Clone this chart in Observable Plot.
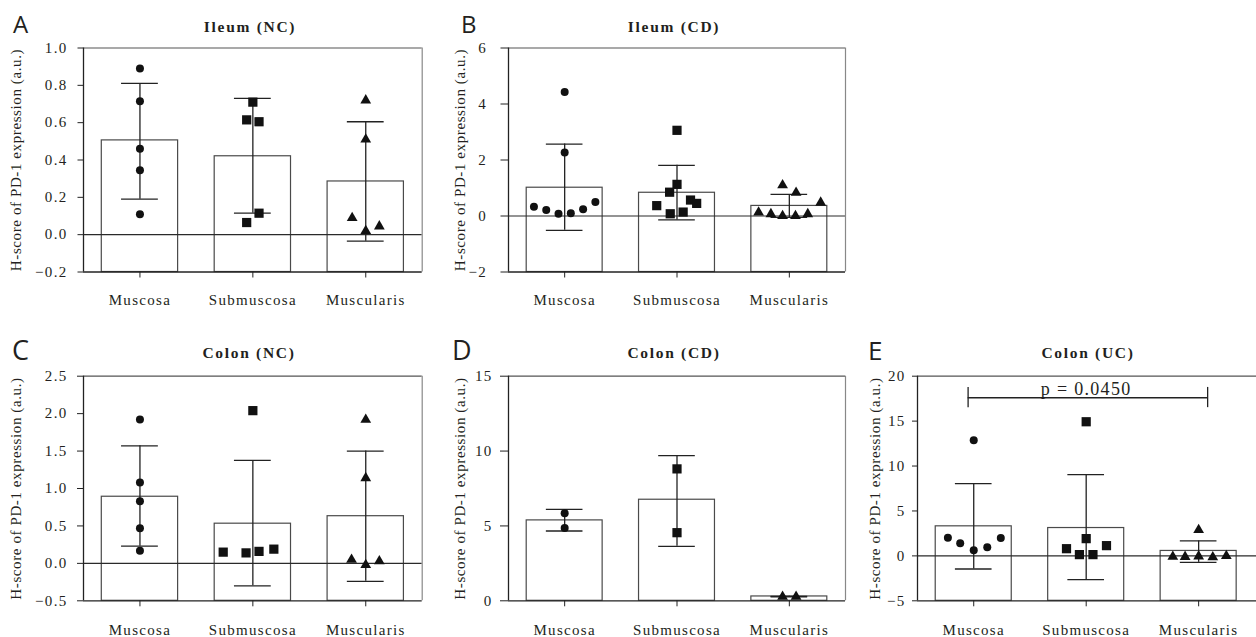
<!DOCTYPE html>
<html><head><meta charset="utf-8">
<script src="https://cdn.jsdelivr.net/npm/d3@7"></script>
<script src="https://cdn.jsdelivr.net/npm/@observablehq/plot@0.6"></script>
<style>
html,body{margin:0;padding:0;background:#fff;}
#root{position:relative;width:1256px;height:637px;overflow:hidden;background:#fff;}
#root svg.pan{position:absolute;overflow:visible;max-width:none;font-family:"Liberation Serif","DejaVu Serif",serif;font-size:15px;}
#root svg.pan text{letter-spacing:1.3px;fill:#231f20;font-family:"Liberation Serif","DejaVu Serif",serif;}
#root svg.pan g[aria-label="y-axis label"] text{letter-spacing:0.6px;}
#root svg.pan g[aria-label="sig label"] text{letter-spacing:1px;}
#overlay{position:absolute;left:0;top:0;}
#overlay text.title{font-family:"Liberation Serif","DejaVu Serif",serif;font-weight:bold;font-size:15.5px;letter-spacing:1.7px;fill:#231f20;text-anchor:middle;}
#overlay text.letter{font-family:"Open Sans","DejaVu Sans",sans-serif;font-weight:400;fill:#231f20;}
</style>
</head><body><div id="root"></div>
<script>
// ---------- data ----------
const groups = ["Muscosa", "Submuscosa", "Muscularis"];
const yLabel = "H-score of PD-1 expression (a.u.)";

// Panel A: Ileum (NC)
const ileumNC_title = "Ileum (NC)";
const ileumNC_values = [[0.89, 0.715, 0.46, 0.345, 0.11], [0.71, 0.615, 0.605, 0.115, 0.065], [0.72, 0.51, 0.09, 0.02, 0.045]];
const ileumNC_slots  = [[0, 0, 0, 0, 0], [0, -1, 1, 1, -1], [0, 0, -2.2, 0, 2.2]];
const ileumNC_mean = [0.505, 0.42, 0.285];
const ileumNC_errHi = [0.81, 0.73, 0.605];
const ileumNC_errLo = [0.19, 0.115, -0.035];
const ileumNC_yTicks = [-0.2, 0, 0.2, 0.4, 0.6, 0.8, 1.0];

// Panel B: Ileum (CD)
const ileumCD_title = "Ileum (CD)";
const ileumCD_values = [[4.43, 2.27, 0.33, 0.21, 0.08, 0.1, 0.24, 0.5], [3.06, 1.13, 0.85, 0.37, 0.57, 0.45, 0.08, 0.14], [1.1, 0.83, 0.48, 0.13, 0.07, 0, 0, 0.07]];
const ileumCD_slots  = [[0, 0, -5, -3, -1, 1, 3, 5], [0, 0, -1.2, -3.3, 2.2, 3.2, -1.1, 1], [-1.1, 1.1, 5.1, -5, -3, -1.1, 1, 3]];
const ileumCD_mean = [1.01, 0.83, 0.36];
const ileumCD_errHi = [2.57, 1.81, 0.77];
const ileumCD_errLo = [-0.51, -0.14, -0.05];
const ileumCD_yTicks = [-2, 0, 2, 4, 6];

// Panel C: Colon (NC)
const colonNC_title = "Colon (NC)";
const colonNC_values = [[1.92, 1.08, 0.83, 0.47, 0.17], [2.04, 0.15, 0.14, 0.16, 0.19], [1.92, 1.14, 0.05, -0.02, 0.03]];
const colonNC_slots  = [[0, 0, 0, 0, 0], [0, -4.8, -1.1, 1, 3.4], [0, 0, -2.3, 0, 2.2]];
const colonNC_mean = [0.89, 0.53, 0.63];
const colonNC_errHi = [1.57, 1.375, 1.5];
const colonNC_errLo = [0.23, -0.3, -0.24];
const colonNC_yTicks = [-0.5, 0, 0.5, 1.0, 1.5, 2.0, 2.5];

// Panel D: Colon (CD)
const colonCD_title = "Colon (CD)";
const colonCD_values = [[5.84, 4.86], [8.81, 4.55], [0.27, 0.27]];
const colonCD_slots  = [[0, 0], [0, 0], [-1.1, 1.1]];
const colonCD_mean = [5.37, 6.75, 0.29];
const colonCD_errHi = [6.1, 9.7, 0.3];
const colonCD_errLo = [4.66, 3.64, 0.26];
const colonCD_yTicks = [0, 5, 10, 15];

// Panel E: Colon (UC)
const colonUC_title = "Colon (UC)";
const colonUC_values = [[12.86, 2.03, 1.4, 0.62, 0.95, 1.99], [14.93, 1.92, 0.8, 0.14, 0.14, 1.14], [2.88, -0.08, -0.1, -0.05, -0.15, 0]];
const colonUC_slots  = [[0, -4.2, -2.2, 0, 2.2, 4.4], [0, 0, -3.2, -1.1, 1.1, 3.3], [0, -4.2, -2.2, 0, 2.3, 4.5]];
const colonUC_mean = [3.29, 3.1, 0.55];
const colonUC_errHi = [8.04, 9.04, 1.66];
const colonUC_errLo = [-1.46, -2.64, -0.72];
const colonUC_yTicks = [-5, 0, 5, 10, 15, 20];
const colonUC_sigGroups = [0, 2];
const colonUC_sigY = 17.6;
const colonUC_sigText = "p = 0.0450";

// ---------- drawing ----------
const SLOT = 0.0547, BAR = 0.338, CAP = 0.163;
const symbols = ["circle", "square", "triangle"];
const radii = [4, 5.2, 4];
const root = document.getElementById("root");

function panel(o) {
  const yMin = o.yTicks[0], yMax = o.yTicks[o.yTicks.length - 1];
  const stats = groups.map((g, i) => ({g: i, mean: o.mean[i], hi: o.errHi[i], lo: o.errLo[i]}));
  const pts = [];
  o.values.forEach((vals, i) => vals.forEach((v, k) => pts.push({g: i, x: i + o.slots[i][k] * SLOT, y: v})));
  const marks = [
    Plot.rect(stats, {x1: d => d.g - BAR, x2: d => d.g + BAR, y1: () => yMin, y2: "mean", fill: "white", stroke: "#4a4a4a", strokeWidth: 1.2}),
  ];
  if (yMin < 0) marks.push(Plot.ruleY([0], {stroke: "#2a2a2a", strokeWidth: 1.1}));
  marks.push(
    Plot.ruleX(stats, {x: "g", y1: "lo", y2: "hi", stroke: "#222", strokeWidth: 1.3}),
    Plot.ruleY(stats, {y: "hi", x1: d => d.g - CAP, x2: d => d.g + CAP, stroke: "#222", strokeWidth: 1.3}),
    Plot.ruleY(stats, {y: "lo", x1: d => d.g - CAP, x2: d => d.g + CAP, stroke: "#222", strokeWidth: 1.3})
  );
  [0, 1, 2].forEach(i => marks.push(Plot.dot(pts.filter(p => p.g === i), {x: "x", y: "y", symbol: symbols[i], r: radii[i], fill: "#111", stroke: "none"})));
  marks.push(
    Plot.ruleY([yMax], {stroke: "#555", strokeWidth: 1.2}),
    Plot.ruleX([o.xDomain[1]], {stroke: "#888", strokeWidth: 1.2}),
    Plot.ruleX([o.xDomain[0]], {stroke: "#222", strokeWidth: 1.3}),
    Plot.ruleY([yMin], {stroke: "#222", strokeWidth: 1.3}),
    Plot.axisY({ticks: o.yTicks, tickFormat: o.fmt, tickSize: o.ts, tickPadding: o.tp, fontSize: 15, stroke: "#222",
      label: yLabel, labelAnchor: "center", labelArrow: "none", labelOffset: o.labelOffset}),
    Plot.axisX({ticks: [0, 1, 2], tickFormat: i => groups[i], tickSize: 6, tickPadding: o.xp, fontSize: 15, stroke: "#222", label: null})
  );
  if (o.sig) {
    const [a, b] = o.sig.groups;
    const xa = a - 0.05, xb = b + 0.08;
    marks.push(
      Plot.ruleY([o.sig.y], {x1: xa, x2: xb, stroke: "#222", strokeWidth: 1.3}),
      Plot.ruleX([xa, xb], {x: d => d, y1: o.sig.y - 1.1, y2: o.sig.y + 1.15, stroke: "#222", strokeWidth: 1.3}),
      Plot.text([o.sig.text], {x: (a + b) / 2, y: o.sig.y + 0.35, text: d => d, fontSize: 18, lineAnchor: "bottom", ariaLabel: "sig label"})
    );
  }
  const svg = Plot.plot({
    width: o.width, height: o.height,
    marginLeft: o.ml, marginRight: o.mr, marginTop: o.mt, marginBottom: o.mb,
    x: {type: "linear", domain: o.xDomain},
    y: {domain: [yMin, yMax]},
    marks
  });
  svg.classList.add("pan");
  svg.style.left = o.left + "px";
  svg.style.top = o.top + "px";
  root.appendChild(svg);
}

const f1 = d3.format(".1f"), f0 = d3.format("d");
const row1 = {top: 0, height: 310, mt: 47.5, mb: 38.5, xp: 16};
const row2 = {top: 310, height: 327, mt: 65.7, mb: 36.7, xp: 18};
const col1 = {left: 0, width: 425, ml: 83, mr: 3.3, xDomain: [-0.5, 2.5], labelOffset: 73};
const col2 = {left: 425, width: 425, ml: 83, mr: 5, xDomain: [-0.5, 2.5], labelOffset: 54};
const col3 = {left: 850, width: 410, ml: 67, mr: 0, xDomain: [-0.5, 2.55], labelOffset: 48};

panel({...row1, ...col1, ts: 5.5, tp: 10.5, values: ileumNC_values, slots: ileumNC_slots, mean: ileumNC_mean, errHi: ileumNC_errHi, errLo: ileumNC_errLo, yTicks: ileumNC_yTicks, fmt: f1});
panel({...row1, ...col2, ts: 7.5, tp: 14, values: ileumCD_values, slots: ileumCD_slots, mean: ileumCD_mean, errHi: ileumCD_errHi, errLo: ileumCD_errLo, yTicks: ileumCD_yTicks, fmt: f0});
panel({...row2, ...col1, ts: 6, tp: 10, values: colonNC_values, slots: colonNC_slots, mean: colonNC_mean, errHi: colonNC_errHi, errLo: colonNC_errLo, yTicks: colonNC_yTicks, fmt: f1});
panel({...row2, ...col2, ts: 8, tp: 8, values: colonCD_values, slots: colonCD_slots, mean: colonCD_mean, errHi: colonCD_errHi, errLo: colonCD_errLo, yTicks: colonCD_yTicks, fmt: f0});
panel({...row2, ...col3, ts: 5, tp: 7, values: colonUC_values, slots: colonUC_slots, mean: colonUC_mean, errHi: colonUC_errHi, errLo: colonUC_errLo, yTicks: colonUC_yTicks, fmt: f0,
  sig: {groups: colonUC_sigGroups, y: colonUC_sigY, text: colonUC_sigText}});

// titles and panel letters
const ns = "http://www.w3.org/2000/svg";
const ov = document.createElementNS(ns, "svg");
ov.setAttribute("id", "overlay"); ov.setAttribute("width", 1256); ov.setAttribute("height", 637);
const titles = [[ileumNC_title, 250, 32], [ileumCD_title, 674, 32], [colonNC_title, 249, 358], [colonCD_title, 674, 358], [colonUC_title, 1088, 358]];
titles.forEach(([t, x, y]) => {
  const e = document.createElementNS(ns, "text"); e.setAttribute("class", "title");
  e.setAttribute("x", x); e.setAttribute("y", y); e.textContent = t; ov.appendChild(e);
});
const letters = [["A", 13, 32.5, 24], ["B", 461, 32.5, 24], ["C", 12, 360, 27], ["D", 452, 360, 27], ["E", 868, 360, 26]];
letters.forEach(([t, x, y, s]) => {
  const e = document.createElementNS(ns, "text"); e.setAttribute("class", "letter");
  e.setAttribute("x", x); e.setAttribute("y", y); e.setAttribute("font-size", s); e.textContent = t; ov.appendChild(e);
});
root.appendChild(ov);
</script>
</body></html>
